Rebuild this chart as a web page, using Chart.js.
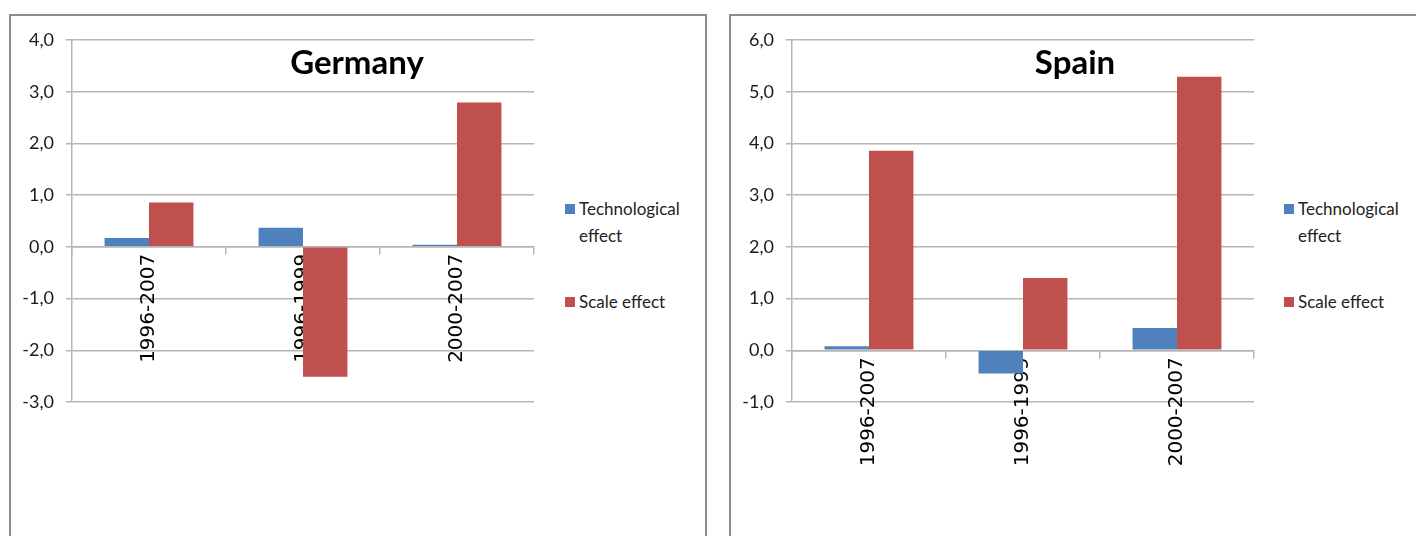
<!DOCTYPE html>
<html>
<head>
<meta charset="utf-8">
<script src="https://cdn.jsdelivr.net/npm/chart.js@4/dist/chart.umd.min.js"></script>
<style>
  html, body { margin: 0; padding: 0; background: #fff; }
  body { width: 1416px; height: 536px; position: relative; overflow: hidden; font-family: Lato, "Open Sans", sans-serif; }
  .box { position: absolute; top: 14px; height: 540px; border: 2px solid #8c8c8c; box-sizing: border-box; }
  .wrap { position: absolute; top: 0; width: 560px; height: 536px; }
  .title { position: absolute; top: 41px; width: 240px; line-height: 40px; text-align: center; font-weight: 700; font-size: 33px; color: #000; }
  .legend { position: absolute; top: 195px; width: 130px; font-size: 17px; line-height: 27px; color: #222; }
  .legend .item { position: relative; padding-left: 14px; margin-bottom: 39px; }
  .legend .sw { position: absolute; left: 0; top: 9px; width: 10px; height: 10px; }
</style>
</head>
<body>
<div class="box" style="left:9px; width:698px;"></div>
<div class="box" style="left:729px; width:700px;"></div>

<div class="wrap" style="left:0px;"><canvas id="germanyChart"></canvas></div>
<div class="wrap" style="left:720px;"><canvas id="spainChart"></canvas></div>

<div class="title" style="left:237px;">Germany</div>
<div class="title" style="left:955px;">Spain</div>

<div class="legend" id="germany-legend" style="left:565px;"></div>
<div class="legend" id="spain-legend" style="left:1284px;"></div>

<script>
// Categories and values
const periods = ['1996-2007', '1996-1999', '2000-2007'];
const seriesNames = ['Technological effect', 'Scale effect'];
const seriesColors = ['#4F81BD', '#C0504D'];

const germanyTech = [0.17, 0.37, 0.04];
const germanyScale = [0.86, -2.51, 2.79];
const germanyRange = [-3, 4];

const spainTech = [0.08, -0.45, 0.43];
const spainScale = [3.86, 1.40, 5.29];
const spainRange = [-1, 6];

const gridColor = '#b5b5b5';

function makeChart(canvasId, tech, scale, range) {
    return new Chart(document.getElementById(canvasId), {
        type: 'bar',
        data: {
            labels: periods,
            datasets: [
                { label: seriesNames[0], data: tech, backgroundColor: seriesColors[0] },
                { label: seriesNames[1], data: scale, backgroundColor: seriesColors[1] }
            ]
        },
        options: {
            responsive: true,
            maintainAspectRatio: false,
            animation: false,
            datasets: { bar: { barPercentage: 1, categoryPercentage: 0.577 } },
            layout: { padding: { left: 22, right: 26, top: 40, bottom: 134 } },
            plugins: { legend: { display: false }, tooltip: { enabled: false } },
            scales: {
                x: {
                    position: { y: 0 },
                    offset: true,
                    z: 1,
                    grid: { drawOnChartArea: false, drawTicks: true, tickLength: 7, color: gridColor, lineWidth: 1.5 },
                    border: { color: gridColor, width: 1.5 },
                    ticks: {
                        autoSkip: false,
                        minRotation: 90,
                        maxRotation: 90,
                        padding: 0,
                        color: '#000',
                        font: { family: '"DejaVu Sans", sans-serif', size: 20 }
                    }
                },
                y: {
                    min: range[0],
                    max: range[1],
                    afterFit: s => { s.width = 50; },
                    grid: { color: gridColor, lineWidth: 1.5, tickLength: 6 },
                    border: { color: gridColor, width: 1.5 },
                    ticks: {
                        stepSize: 1,
                        padding: 12,
                        color: '#1a1a1a',
                        font: { family: 'Lato, "Open Sans", sans-serif', size: 18 },
                        callback: v => v.toFixed(1).replace('.', ',')
                    }
                }
            }
        }
    });
}

function renderLegend(id) {
    const container = document.getElementById(id);
    container.innerHTML = seriesNames.map((name, i) => `
        <div class="item">
            <span class="sw" style="background:${seriesColors[i]}"></span>
            <span>${name}</span>
        </div>
    `).join('');
}

makeChart('germanyChart', germanyTech, germanyScale, germanyRange);
makeChart('spainChart', spainTech, spainScale, spainRange);
renderLegend('germany-legend');
renderLegend('spain-legend');
</script>
</body>
</html>
